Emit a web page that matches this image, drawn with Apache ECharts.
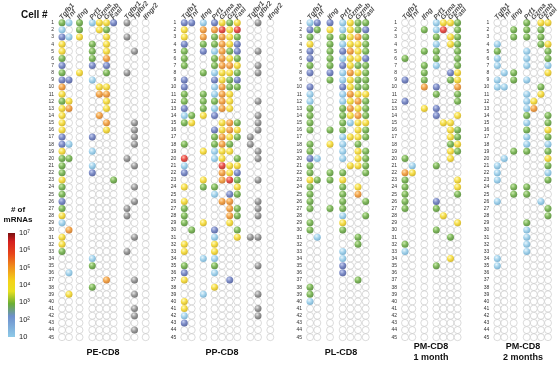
<!DOCTYPE html>
<html><head><meta charset="utf-8">
<script src="https://cdn.jsdelivr.net/npm/echarts@6/dist/echarts.min.js"></script>
<style>html,body{margin:0;padding:0;background:#fff}#c{width:560px;height:366px}</style>
</head><body><div id="c"></div>
<script>
// ---------------- DATA ----------------
const genesFull = ['Tgfb1','Tnf','Ifng','Prf1','Gzma','Gzmb','Fasl','Tgfbr1','Tgfbr2','Ifngr2'];
const genesShort = ['Tgfb1','Tnf','Ifng','Prf1','Gzma','Gzmb','Fasl'];
const cellNumbers = Array.from({length:45}, (_, i) => String(i + 1));
const panelTitles = ['PE-CD8','PP-CD8','PL-CD8','PM-CD8\n1 month','PM-CD8\n2 months'];
const scaleLabels = ['10','10\u00B2','10\u00B3','10\u2074','10\u2075','10\u2076','10\u2077'];
// Each string = one cell (row); each char = one gene column.
// '.' not detected; '1'..'6' = decade of mRNA copies (1: 10-10^2 ... 6: 10^6-10^7); 'x' = receptor detected
const PE = [
'3131442x..','1.3.43....','214..4.x..','4..3.4....','4..3.4..x.',
'3..3.5....','2..2.2....','3.4..3.x..','22.1......','5...44....',
'4...55....','34...4....','45...4....','4...5.....','4....5..x.',
'4....4..x.','2..2....x.','21......x.','4..1......','33.....x..',
'3..1....x.','3..2......','4.....3...','3.......x.','3.........',
'2.......x.','3......x..','4......x..','1.........','.5........',
'4.......x.','4.........','3......x..','...1......','...3......',
'.1........','.....5..x.','...3......','.4......x.','..........',
'........x.','........x.','..........','........x.','..........'];
const PP = [
'2212434.x.','4.55646...','4.53543...','2.33542...','3.21532.x.',
'3..3543...','3..3554.x.','..31443.x.','2..2432...','2..1533...',
'3.3154....','3.3354..x.','2.3154....','1342....x.','34..453.x.',
'...2454.x.','...3543x..','3..353.x..','..4144..x.','6..14.3.x.',
'1...644...','2...542...','..4.563.x.','4.33..4...','...1.23...',
'4...55..x.','3....53.x.','3....53.x.','3.4..4....','.3.2..3...',
'...1..4xx.','4..4......','4..4......','..11......','3..3....x.',
'2..1......','4....2....','...4......','..1.....x.','4.........',
'4.......x.','1.......x.','2.........','..........','..........'];
const PL = [
'1221433','2341432','3.33453','4.31443','2.32543',
'2.31442','3.32433','2.21543','..31433','2..2433',
'1..1544','1..1453','3..3543','3..3453','3..3144',
'3.33.43','...1443','3.41.3.','3..1.43','21.1.43',
'3...443','3.33..3','4334...','3..3.4.','3..3.5.',
'3..3..3','3.33...','...1..3','3..4...','3..3...',
'.1...3.','.....3.','...1...','...1...','...2...',
'...2...','.....3.','3......','3......','1......',
'.......','.......','.......','.......','.......'];
const PM1 = [
'...1443','..316.3','...3.43','...1.43','..33..3',
'3..3..3','..31..3','..3..24','2.3..34','..52..5',
'...3..3','2.....3','..42...','...2..4','....44.',
'.....43','.....43','.....34','.....43','3....4.',
'.1.3...','54.....','3.....4','3.....4','3.....3',
'3..2...','3..3...','....4..','......4','...3...',
'.....3.','3......','1......','.....4.','...3...',
'.......','.......','.......','.......','.......',
'.......','.......','.......','.......','.......'];
const PM2 = [
'...3.44','..33.3.','..33.3.','1....34','3..1..3',
'1..1..3','1..1..1','.13...4','1.31...','11...3.',
'...1.4.','...14..','...15..','...3..3','...1..3',
'...3..4','...1..3','...1..1','..33..3','.1....4',
'1.....3','1.....1','1.....3','..33...','..33...',
'1....1.','......3','......3','...3...','...1...',
'...1...','...1...','...1...','1......','1......',
'.......','.......','.......','.......','.......',
'.......','.......','.......','.......','.......'];

// ---------------- LAYOUT / STYLE ----------------
const panels = [
  {rows: PE,  genes: genesFull,  left: 62,    pos: [0,7,17.5,30.3,37.4,44.5,51.6,65,72.5,83.7], tx: 103, ty: 353},
  {rows: PP,  genes: genesFull,  left: 184.3, pos: [0,7.4,19,30.2,37.8,45.4,53,66,73.7,86],      tx: 222, ty: 353},
  {rows: PL,  genes: genesShort, left: 310,   pos: [0,7.3,20,32.7,40.3,48,55.7],                 tx: 341, ty: 353},
  {rows: PM1, genes: genesShort, left: 405,   pos: [0,7.3,19.3,31.3,38.4,45.5,52.6],             tx: 431, ty: 352},
  {rows: PM2, genes: genesShort, left: 497.3, pos: [0,7,16.4,29.4,36.5,43.6,50.7],               tx: 523, ty: 352}
];
const GRID_TOP = 22.7, GRID_H = 314.5, DOT = 7, HEADER_ROW = 0.25;
const palette = {
  '1': ['#e2f3fb','#8dc8e7','#5a9cc2'],
  '2': ['#b6c2ec','#5c6fb8','#34448a'],
  '3': ['#bfe59a','#5fa634','#3b761a'],
  '4': ['#fff8b0','#f3d518','#c09e00'],
  '5': ['#ffd79a','#ef8d1c','#bc5f08'],
  '6': ['#ffab98','#e4231c','#a00f0b'],
  'x': ['#e0e0e0','#828282','#505050']
};
function ball(code){
  const c = palette[code];
  return new echarts.graphic.RadialGradient(0.38, 0.32, 0.72, [
    {offset: 0, color: c[0]}, {offset: 0.5, color: c[1]}, {offset: 1, color: c[2]}
  ]);
}
const FONT = '"Liberation Sans", Arial, sans-serif';

const grid = [], xAxis = [], yAxis = [], series = [];
panels.forEach((p, i) => {
  const span = p.pos[p.pos.length - 1];
  grid.push({left: p.left, top: GRID_TOP, width: span, height: GRID_H});
  xAxis.push({gridIndex: i, type: 'value', min: 0, max: span, show: false});
  yAxis.push({
    gridIndex: i, type: 'value', min: 1, max: 45, interval: 1, inverse: true,
    axisLine: {show: false}, axisTick: {show: false}, splitLine: {show: false},
    axisLabel: {margin: 8, fontSize: 5, color: '#333', fontFamily: FONT, formatter: v => cellNumbers[v - 1]}
  });
  const empty = [], filled = [];
  p.rows.forEach((row, r) => {
    p.genes.forEach((g, j) => {
      const ch = row[j];
      if (ch === '.' || ch === undefined) empty.push([p.pos[j], r + 1]);
      else filled.push({value: [p.pos[j], r + 1], itemStyle: {color: ball(ch)}});
    });
  });
  series.push({type: 'scatter', xAxisIndex: i, yAxisIndex: i, data: empty, symbolSize: DOT, clip: false, silent: true,
    itemStyle: {color: '#fff', borderColor: '#b4b4b4', borderWidth: 0.6}});
  series.push({type: 'scatter', xAxisIndex: i, yAxisIndex: i, data: filled, symbolSize: DOT, clip: false, silent: true});
  series.push({type: 'scatter', xAxisIndex: i, yAxisIndex: i, clip: false, silent: true, symbolSize: 0,
    data: p.genes.map((g, j) => ({value: [p.pos[j], HEADER_ROW], name: g})),
    label: {show: true, position: 'inside', formatter: '{b}', rotate: 50, align: 'left', verticalAlign: 'middle',
      offset: [-2, 0], fontSize: 7, fontStyle: 'italic', fontWeight: 'bold', fontFamily: FONT, color: '#222'}});
});

// colour scale legend (log10 scale 1..7)
const LG = panels.length;
grid.push({left: 8, top: 233, width: 7, height: 104});
xAxis.push({gridIndex: LG, type: 'category', data: [''], show: false});
yAxis.push({gridIndex: LG, type: 'value', min: 1, max: 7, interval: 1, position: 'right',
  axisLine: {show: false}, axisTick: {show: false}, splitLine: {show: false},
  axisLabel: {margin: 4, fontSize: 7.5, color: '#222', fontFamily: FONT, formatter: v => scaleLabels[v - 1]}});
series.push({type: 'custom', xAxisIndex: LG, yAxisIndex: LG, data: [[0, 1, 7]], silent: true,
  renderItem: (params, api) => {
    const top = api.coord([0, api.value(2)]), bot = api.coord([0, api.value(1)]);
    const w = api.size([1, 0])[0];
    return {type: 'rect', shape: {x: top[0] - w / 2, y: top[1], width: w, height: bot[1] - top[1]},
      style: {fill: new echarts.graphic.LinearGradient(0, 0, 0, 1, [
        {offset: 0, color: '#7a1010'}, {offset: 0.08, color: '#d41f1f'}, {offset: 0.2, color: '#e8451a'},
        {offset: 0.32, color: '#f08c1c'}, {offset: 0.46, color: '#f4d21a'}, {offset: 0.56, color: '#e8e020'},
        {offset: 0.68, color: '#6aae34'}, {offset: 0.8, color: '#6d8fcc'}, {offset: 1, color: '#8ecae8'}])}};
  }});

const graphic = [
  {type: 'text', x: 21, y: 15, style: {text: 'Cell #', font: 'bold 10px ' + FONT, fill: '#111', verticalAlign: 'middle'}},
  {type: 'text', x: 18, y: 210, style: {text: '# of', font: 'bold 8px ' + FONT, fill: '#111', align: 'center', verticalAlign: 'middle'}},
  {type: 'text', x: 18, y: 220, style: {text: 'mRNAs', font: 'bold 8px ' + FONT, fill: '#111', align: 'center', verticalAlign: 'middle'}}
];
panels.forEach((p, i) => {
  graphic.push({type: 'text', x: p.tx, y: p.ty, style: {text: panelTitles[i], font: 'bold 9px ' + FONT, fill: '#111',
    align: 'center', verticalAlign: 'middle', lineHeight: 11}});
});

const chart = echarts.init(document.getElementById('c'), null, {renderer: 'canvas'});
chart.setOption({animation: false, backgroundColor: '#fff', grid, xAxis, yAxis, series, graphic});
</script></body></html>
